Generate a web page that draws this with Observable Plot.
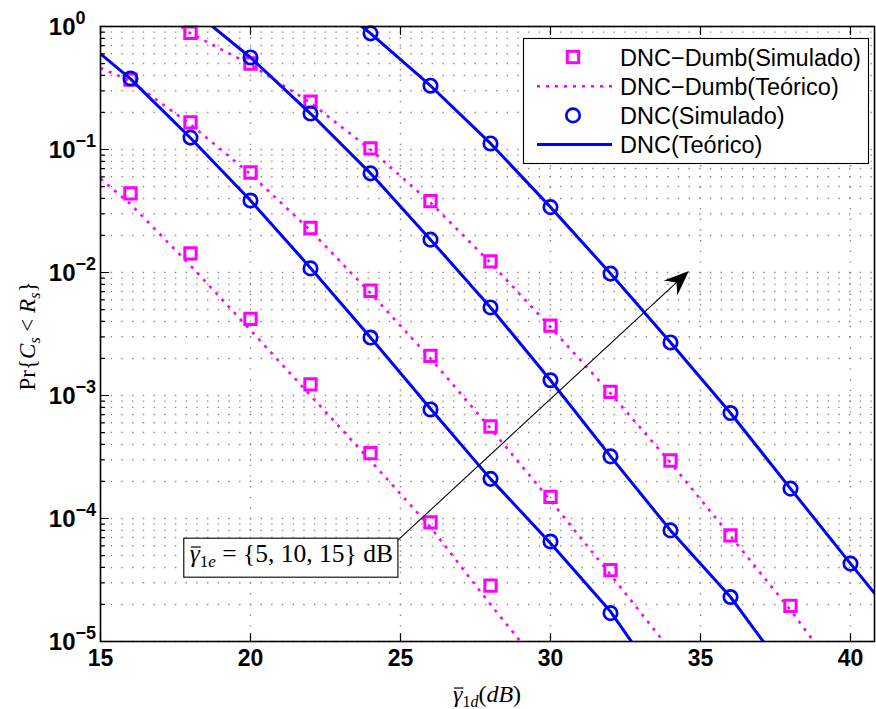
<!DOCTYPE html>
<html><head><meta charset="utf-8">
<script src="https://cdn.jsdelivr.net/npm/d3@7"></script>
<script src="https://cdn.jsdelivr.net/npm/@observablehq/plot@0.6"></script>
<style>html,body{margin:0;padding:0;background:#fff}#chart svg{display:block}</style>
</head><body><div id="chart"></div>
<script>
// ---- tick labels ----
const xTicks = [15, 20, 25, 30, 35, 40];
const yMajor = [1, 1e-1, 1e-2, 1e-3, 1e-4, 1e-5];
const yExpLabels = ["0", "\u22121", "\u22122", "\u22123", "\u22124", "\u22125"];
const yMinor = [];
for (const d of [1e-5, 1e-4, 1e-3, 1e-2, 1e-1]) for (let m = 2; m <= 9; m++) yMinor.push(m * d);

// ---- DNC (simulated) ----
const dncSimX5 = [16, 18, 20, 22, 24, 26, 28, 30, 32];
const dncSim5 = [0.378, 0.125, 0.0385, 0.0108, 0.00296, 7.7e-4, 2.1e-4, 6.5e-5, 1.7e-5];
const dncSimX10 = [20, 22, 24, 26, 28, 30, 32, 34, 36];
const dncSim10 = [0.56, 0.196, 0.064, 0.0185, 0.0052, 0.00133, 3.2e-4, 8.0e-5, 2.3e-5];
const dncSimX15 = [24, 26, 28, 30, 32, 34, 36, 38, 40];
const dncSim15 = [0.88, 0.33, 0.112, 0.034, 0.0098, 0.0027, 7.2e-4, 1.75e-4, 4.3e-5];

// ---- DNC (theoretical) ----
const dncThX5 = [15, 16, 18, 20, 22, 24, 26, 28, 30, 32, 34];
const dncTh5 = [0.60, 0.375, 0.124, 0.0385, 0.0109, 0.00296, 7.8e-4, 2.1e-4, 6.3e-5, 1.75e-5, 3.5e-6];
const dncThX10 = [18, 20, 22, 24, 26, 28, 30, 32, 34, 36, 38];
const dncTh10 = [1.4, 0.56, 0.196, 0.064, 0.0185, 0.0052, 0.00133, 3.2e-4, 8.0e-5, 2.3e-5, 5.0e-6];
const dncThX15 = [22, 24, 26, 28, 30, 32, 34, 36, 38, 40, 42];
const dncTh15 = [2.1, 0.88, 0.33, 0.112, 0.034, 0.0098, 0.0027, 7.2e-4, 1.75e-4, 4.3e-5, 1.07e-5];

// ---- DNC-Dumb (simulated) ----
const dumbSimX5 = [16, 18, 20, 22, 24, 26, 28];
const dumbSim5 = [0.044, 0.0143, 0.0042, 0.00123, 3.4e-4, 9.3e-5, 2.85e-5];
const dumbSimX10 = [16, 18, 20, 22, 24, 26, 28, 30, 32];
const dumbSim10 = [0.37, 0.166, 0.065, 0.023, 0.0071, 0.0021, 5.6e-4, 1.5e-4, 3.8e-5];
const dumbSimX15 = [18, 20, 22, 24, 26, 28, 30, 32, 34, 36, 38];
const dumbSim15 = [0.89, 0.50, 0.245, 0.102, 0.038, 0.0123, 0.0037, 0.00107, 2.96e-4, 7.3e-5, 1.95e-5];

// ---- DNC-Dumb (theoretical) ----
const dumbThX5 = [15, 16, 18, 20, 22, 24, 26, 28, 30];
const dumbTh5 = [0.058, 0.036, 0.0114, 0.0034, 0.0010, 2.95e-4, 8.5e-5, 2.0e-5, 5.0e-6];
const dumbThX10 = [15, 16, 18, 20, 22, 24, 26, 28, 30, 32, 34];
const dumbTh10 = [0.46, 0.36, 0.16, 0.063, 0.022, 0.0068, 0.0020, 5.4e-4, 1.4e-4, 3.5e-5, 8.5e-6];
const dumbThX15 = [16, 18, 20, 22, 24, 26, 28, 30, 32, 34, 36, 38, 40];
const dumbTh15 = [2.0, 0.88, 0.49, 0.24, 0.10, 0.037, 0.012, 0.0036, 0.00104, 2.85e-4, 7.2e-5, 1.8e-5, 4.0e-6];

// ---- legend & annotation ----
const legendLabels = ["DNC\u2212Dumb(Simulado)", "DNC\u2212Dumb(Te\u00f3rico)", "DNC(Simulado)", "DNC(Te\u00f3rico)"];
const annotTail = {x: 24.93, y: 6.6e-5};
const annotTip = {x: 34.63, y: 0.0102};

const BLUE = "#0000ff", MAG = "#ff00ff";
const rows = (xs, ys, s) => xs.map((x, i) => ({x, y: ys[i], s}));
const dncSim = [...rows(dncSimX5, dncSim5, 5), ...rows(dncSimX10, dncSim10, 10), ...rows(dncSimX15, dncSim15, 15)];
const dncTh = [...rows(dncThX5, dncTh5, 5), ...rows(dncThX10, dncTh10, 10), ...rows(dncThX15, dncTh15, 15)];
const dumbSim = [...rows(dumbSimX5, dumbSim5, 5), ...rows(dumbSimX10, dumbSim10, 10), ...rows(dumbSimX15, dumbSim15, 15)];
const dumbTh = [...rows(dumbThX5, dumbTh5, 5), ...rows(dumbThX10, dumbTh10, 10), ...rows(dumbThX15, dumbTh15, 15)];

const stick = {draw(ctx, l) { ctx.moveTo(0, 0); ctx.lineTo(0, -l); }};
const grid = {stroke: "#8a8a8a", strokeWidth: 1.4, strokeLinecap: "butt", strokeDasharray: "1.4,9.3"};
const dotted = {stroke: MAG, strokeWidth: 2.6, strokeLinecap: "butt", strokeDasharray: "3,6"};

const chart = Plot.plot({
  width: 876, height: 709,
  marginLeft: 100, marginRight: 2, marginTop: 26, marginBottom: 68,
  style: {fontFamily: "'Liberation Sans', Arial, sans-serif", background: "white"},
  x: {domain: [15, 40.8], axis: null},
  y: {type: "log", domain: [1e-5, 1], axis: null},
  marks: [
    Plot.ruleY([...yMajor, ...yMinor], {y: d => d, ...grid}),
    Plot.ruleX(xTicks.slice(1), {x: d => d, ...grid}),
    Plot.line(dumbTh, {x: "x", y: "y", z: "s", ...dotted, clip: true}),
    Plot.dot(dumbSim, {x: "x", y: "y", symbol: "square", r: 6.4, stroke: MAG, strokeWidth: 3, fill: "none"}),
    Plot.dot(dncSim, {x: "x", y: "y", symbol: "circle", r: 6.7, stroke: BLUE, strokeWidth: 2.7, fill: "none"}),
    Plot.line(dncTh, {x: "x", y: "y", z: "s", stroke: BLUE, strokeWidth: 3, clip: true}),
    // inward ticks
    Plot.vector(xTicks, {x: d => d, frameAnchor: "bottom", length: 8, rotate: 0, anchor: "start", shape: stick, stroke: "black", strokeWidth: 1.2}),
    Plot.vector(xTicks, {x: d => d, frameAnchor: "top", length: 8, rotate: 180, anchor: "start", shape: stick, stroke: "black", strokeWidth: 1.2}),
    Plot.vector(yMajor, {y: d => d, frameAnchor: "left", length: 8, rotate: 90, anchor: "start", shape: stick, stroke: "black", strokeWidth: 1.2}),
    Plot.vector(yMinor, {y: d => d, frameAnchor: "left", length: 4, rotate: 90, anchor: "start", shape: stick, stroke: "black", strokeWidth: 1.2}),
    // tick labels
    Plot.text(xTicks, {x: d => d, frameAnchor: "bottom", text: d => String(d), dy: 24, fontSize: 23, fontWeight: "bold", fill: "black"}),
    Plot.text(yMajor, {y: d => d, frameAnchor: "left", text: () => "10", textAnchor: "end", dx: -25, dy: 1, fontSize: 24, fontWeight: "bold", fill: "black"}),
    Plot.text(yMajor, {y: d => d, frameAnchor: "left", text: (d, i) => yExpLabels[i], textAnchor: "start", dx: -25, dy: -8, fontSize: 18, fontWeight: "bold", fill: "black"}),
    Plot.frame({stroke: "black", strokeWidth: 1.6})
  ]
});
document.getElementById("chart").appendChild(chart);

const sx = chart.scale("x"), sy = chart.scale("y");
const svg = d3.select(chart);
const serif = "'Liberation Serif', 'DejaVu Serif', serif";

// overlined gamma helper: real text glyph plus a short bar above it
function gammaBar(textSel, size) {
  const t = textSel.append("tspan").attr("font-style", "italic").text("\u03b3");
  return t;
}
function addBar(textSel, tspan) {
  const n = tspan.node();
  const ext = n.getExtentOfChar ? n.getExtentOfChar(0) : n.getBBox();
  const tr = textSel.attr("transform");
  d3.select(textSel.node().parentNode).append("line")
    .attr("transform", tr)
    .attr("x1", ext.x + 1).attr("x2", ext.x + ext.width + 1)
    .attr("y1", ext.y + ext.height * 0.27).attr("y2", ext.y + ext.height * 0.27)
    .attr("stroke", "black").attr("stroke-width", 1.2);
}

// axis labels
const xl = svg.append("text").attr("x", 487).attr("y", 702).attr("text-anchor", "middle")
  .attr("font-family", serif).attr("font-size", 24).attr("fill", "black");
const xg = gammaBar(xl);
xl.append("tspan").attr("font-size", 16).attr("dy", 5).text("1");
xl.append("tspan").attr("font-size", 16).attr("font-style", "italic").text("d");
xl.append("tspan").attr("dy", -5).text("(");
xl.append("tspan").attr("font-style", "italic").text("dB");
xl.append("tspan").text(")");
addBar(xl, xg);

const yl = svg.append("text").attr("transform", "translate(35,336) rotate(-90)").attr("text-anchor", "middle")
  .attr("font-family", serif).attr("font-size", 23).attr("fill", "black");
yl.append("tspan").text("Pr{");
yl.append("tspan").attr("font-style", "italic").text("C");
yl.append("tspan").attr("font-style", "italic").attr("font-size", 16).attr("dy", 5).text("s");
yl.append("tspan").attr("dy", -5).text(" < ");
yl.append("tspan").attr("font-style", "italic").text("R");
yl.append("tspan").attr("font-style", "italic").attr("font-size", 16).attr("dy", 5).text("s");
yl.append("tspan").attr("dy", -5).text("}");

// annotation arrow
const tx = sx.apply(annotTail.x), ty = sy.apply(annotTail.y);
const hx = sx.apply(annotTip.x), hy = sy.apply(annotTip.y);
const L = Math.hypot(hx - tx, hy - ty), ux = (hx - tx) / L, uy = (hy - ty) / L, px = -uy, py = ux;
svg.append("line").attr("x1", tx).attr("y1", ty).attr("x2", hx - ux * 16).attr("y2", hy - uy * 16)
  .attr("stroke", "black").attr("stroke-width", 1.1);
const P = (a, b) => [hx + ux * a + px * b, hy + uy * a + py * b];
svg.append("path").attr("d", "M" + [P(0, 0), P(-25, -10), P(-17, 0), P(-25, 10)].map(p => p.join(",")).join("L") + "Z")
  .attr("fill", "black");

// annotation box
const ag = svg.append("g");
const rect = ag.append("rect");
const at = ag.append("text").attr("x", tx - 5).attr("y", ty + 22).attr("text-anchor", "end")
  .attr("font-family", serif).attr("font-size", 25.5).attr("fill", "black");
const ag1 = gammaBar(at);
at.append("tspan").attr("font-size", 17).attr("dy", 5).text("1");
at.append("tspan").attr("font-size", 17).attr("font-style", "italic").text("e");
at.append("tspan").attr("dy", -5).text(" = {5, 10, 15} dB");
const bb = at.node().getBBox();
rect.attr("x", bb.x - 6).attr("y", ty - 2).attr("width", tx - (bb.x - 6)).attr("height", 39)
  .attr("fill", "white").attr("stroke", "black").attr("stroke-width", 1.1);
addBar(at, ag1);

// legend
const lg = svg.append("g");
lg.append("rect").attr("x", 523.5).attr("y", 38.5).attr("width", 345).attr("height", 125)
  .attr("fill", "white").attr("stroke", "black").attr("stroke-width", 1.1);
const rowY = i => 57 + i * 29.2;
lg.append("rect").attr("x", 573 - 5.7).attr("y", rowY(0) - 5.7).attr("width", 11.4).attr("height", 11.4)
  .attr("fill", "none").attr("stroke", MAG).attr("stroke-width", 3);
lg.append("line").attr("x1", 537).attr("x2", 612).attr("y1", rowY(1)).attr("y2", rowY(1))
  .attr("stroke", MAG).attr("stroke-width", 2.6).attr("stroke-dasharray", "3,6");
lg.append("circle").attr("cx", 573).attr("cy", rowY(2)).attr("r", 6.7)
  .attr("fill", "none").attr("stroke", BLUE).attr("stroke-width", 2.7);
lg.append("line").attr("x1", 537).attr("x2", 612).attr("y1", rowY(3)).attr("y2", rowY(3))
  .attr("stroke", BLUE).attr("stroke-width", 3);
legendLabels.forEach((t, i) => {
  lg.append("text").attr("x", 620).attr("y", rowY(i) + 8.5).attr("font-size", 23.5).attr("text-anchor", "start")
    .attr("font-family", "'Liberation Sans', Arial, sans-serif").attr("fill", "black").text(t);
});
</script></body></html>
